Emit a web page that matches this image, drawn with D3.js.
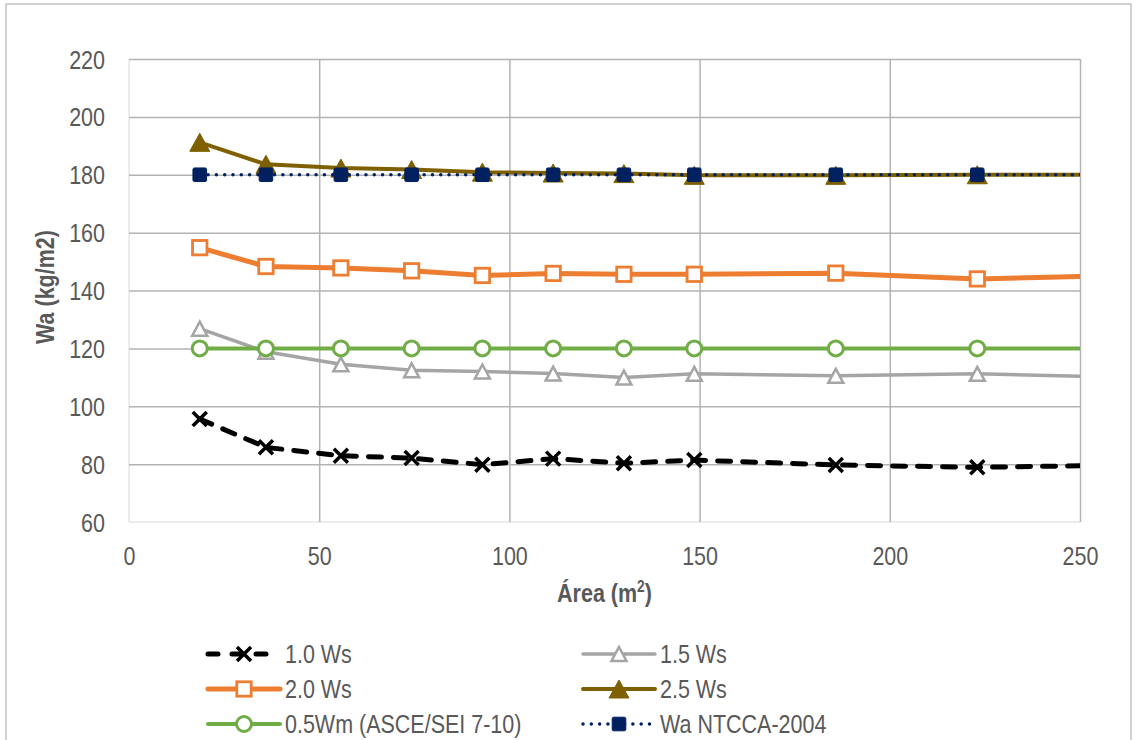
<!DOCTYPE html>
<html>
<head>
<meta charset="utf-8">
<script src="https://cdn.jsdelivr.net/npm/d3@7"></script>
<style>
html,body{margin:0;padding:0;background:#fff;}
svg{display:block;}
text{font-family:"Liberation Sans",Arial,sans-serif;fill:#595959;}
</style>
</head>
<body>
<svg id="chart" width="1138" height="740"></svg>
<script>
// ---- Data ----
const areas = [18.6, 36.0, 55.7, 74.3, 92.9, 111.5, 130.1, 148.6, 185.8, 223.0, 260.1];
const ws10  = [95.6, 85.8, 82.9, 82.1, 79.8, 81.9, 80.3, 81.4, 79.7, 78.9, 79.6];
const ws15  = [126.8, 118.8, 114.5, 112.4, 112.0, 111.3, 109.9, 111.2, 110.5, 111.2, 110.1];
const ws20  = [154.8, 148.3, 147.8, 146.8, 145.2, 145.9, 145.6, 145.6, 146.0, 144.0, 145.2];
const ws25  = [191.2, 183.6, 182.3, 181.8, 180.9, 180.6, 180.4, 179.8, 179.8, 180.0, 180.0];
const wm05  = [120, 120, 120, 120, 120, 120, 120, 120, 120, 120, 120];
const ntcca = [180, 180, 180, 180, 180, 180, 180, 180, 180, 180, 180];
const seriesNames = ["1.0 Ws", "1.5 Ws", "2.0 Ws", "2.5 Ws", "0.5Wm (ASCE/SEI 7-10)", "Wa NTCCA-2004"];
const xTicks = [0, 50, 100, 150, 200, 250];
const yTicks = [60, 80, 100, 120, 140, 160, 180, 200, 220];
const xTitle = "Área (m";
const xTitleSup = "2";
const yTitle = "Wa (kg/m2)";

// ---- Styles ----
const styles = [
  {color:"#000000", width:5, dash:"13 12", marker:"x"},
  {color:"#a5a5a5", width:3.5, dash:null, marker:"triOpen"},
  {color:"#ed7d31", width:5, dash:null, marker:"sqOpen"},
  {color:"#7f6000", width:4, dash:null, marker:"triFill"},
  {color:"#70ad47", width:4, dash:null, marker:"circOpen"},
  {color:"#002060", width:3.5, dash:"0.01 8.3", marker:"sqFill"}
];
const seriesVals = [ws10, ws15, ws20, ws25, wm05, ntcca];

const svg = d3.select("#chart");
const L = 129, R = 1080, T = 59, B = 522;
const SX = 0.86, FS = 25;

const x = d3.scaleLinear().domain([0, 250]).range([L, R]);
const y = d3.scaleLinear().domain([60, 220]).range([B, T]);

// outer frame
svg.append("rect").attr("x", 6).attr("y", 4).attr("width", 1125).attr("height", 760)
  .attr("fill", "#fff").attr("stroke", "#c4c4c4").attr("stroke-width", 1.5);

// plot area light borders (left & bottom)
svg.append("line").attr("x1", L).attr("x2", L).attr("y1", T).attr("y2", B)
  .attr("stroke", "#dadada").attr("stroke-width", 1);
svg.append("line").attr("x1", L).attr("x2", R).attr("y1", B).attr("y2", B)
  .attr("stroke", "#dadada").attr("stroke-width", 1);

// gridlines via axes
const gy = svg.append("g").attr("transform", `translate(${L},0)`)
  .call(d3.axisLeft(y).tickValues(yTicks.filter(v => v > 60)).tickSize(-(R - L)).tickFormat(""));
gy.select(".domain").remove();
gy.selectAll("line").attr("stroke", "#b3b3b3").attr("stroke-width", 1.5);

const gx = svg.append("g").attr("transform", `translate(0,${B})`)
  .call(d3.axisBottom(x).tickValues(xTicks.filter(v => v > 0)).tickSize(-(B - T)).tickFormat(""));
gx.select(".domain").remove();
gx.selectAll("line").attr("stroke", "#b3b3b3").attr("stroke-width", 1.5);

// tick labels via axes
const ly = svg.append("g").attr("transform", `translate(${L},0)`)
  .call(d3.axisLeft(y).tickValues(yTicks).tickSize(0).tickFormat(d3.format("d")));
ly.select(".domain").remove();
ly.selectAll("text").attr("x", 0).attr("dy", null)
  .attr("font-size", FS).attr("font-family", "Liberation Sans, Arial, sans-serif")
  .attr("fill", "#595959").attr("text-anchor", "end")
  .attr("transform", `translate(-24,9) scale(${SX},1)`);

const lx = svg.append("g").attr("transform", `translate(0,${B})`)
  .call(d3.axisBottom(x).tickValues(xTicks).tickSize(0).tickFormat(d3.format("d")));
lx.select(".domain").remove();
lx.selectAll("text").attr("y", 0).attr("dy", null)
  .attr("font-size", FS).attr("font-family", "Liberation Sans, Arial, sans-serif")
  .attr("fill", "#595959").attr("text-anchor", "middle")
  .attr("transform", `translate(0,43) scale(${SX},1)`);

// axis titles
const xt = svg.append("text").attr("text-anchor", "middle").attr("font-weight", "bold")
  .attr("font-size", FS).attr("transform", `translate(${(L + R) / 2},602) scale(${SX},1)`);
xt.append("tspan").text(xTitle);
xt.append("tspan").attr("font-size", 16).attr("dy", -10).text(xTitleSup);
xt.append("tspan").attr("dy", 10).text(")");

svg.append("text").attr("text-anchor", "middle").attr("font-weight", "bold")
  .attr("font-size", FS).attr("transform", `translate(54,287) rotate(-90) scale(${SX},1)`)
  .text(yTitle);

// clip
svg.append("clipPath").attr("id", "plotclip").append("rect")
  .attr("x", L).attr("y", T - 20).attr("width", R - L).attr("height", B - T + 40);

function drawMarker(g, type, cx, cy, color, s) {
  s = s || 1;
  if (type === "x") {
    const d = 7 * s;
    g.append("path").attr("d", `M${cx - d},${cy - d}L${cx + d},${cy + d}M${cx - d},${cy + d}L${cx + d},${cy - d}`)
      .attr("stroke", color).attr("stroke-width", 3.5).attr("fill", "none");
  } else if (type === "triOpen") {
    const w = 7.5 * s, h = 7 * s;
    g.append("path").attr("d", `M${cx},${cy - h}L${cx + w},${cy + h}L${cx - w},${cy + h}Z`)
      .attr("stroke", color).attr("stroke-width", 2.5).attr("fill", "#fff").attr("stroke-linejoin", "miter");
  } else if (type === "triFill") {
    const w = 10 * s, h = 9 * s;
    g.append("path").attr("d", `M${cx},${cy - h}L${cx + w},${cy + h}L${cx - w},${cy + h}Z`)
      .attr("stroke", color).attr("stroke-width", 1).attr("fill", color);
  } else if (type === "sqOpen") {
    const h = 7.2 * s;
    g.append("rect").attr("x", cx - h).attr("y", cy - h).attr("width", 2 * h).attr("height", 2 * h)
      .attr("stroke", color).attr("stroke-width", 2.8).attr("fill", "#fff");
  } else if (type === "sqFill") {
    const h = 6.8 * s;
    g.append("rect").attr("x", cx - h).attr("y", cy - h).attr("width", 2 * h).attr("height", 2 * h)
      .attr("rx", 1.5).attr("stroke", color).attr("stroke-width", 1).attr("fill", color);
  } else if (type === "circOpen") {
    g.append("circle").attr("cx", cx).attr("cy", cy).attr("r", 7.5 * s)
      .attr("stroke", color).attr("stroke-width", 3).attr("fill", "#fff");
  }
}

const lineGen = d3.line().x(d => x(d[0])).y(d => y(d[1]));
const plot = svg.append("g").attr("clip-path", "url(#plotclip)");

seriesVals.forEach((vals, i) => {
  const st = styles[i];
  const pts = areas.map((a, j) => [a, vals[j]]);
  const p = plot.append("path").datum(pts).attr("d", lineGen)
    .attr("fill", "none").attr("stroke", st.color).attr("stroke-width", st.width)
    .attr("stroke-linejoin", "round").attr("stroke-linecap", "round");
  if (st.dash) p.attr("stroke-dasharray", st.dash);
  const mg = plot.append("g");
  pts.filter(d => d[0] <= 250).forEach(d => drawMarker(mg, st.marker, x(d[0]), y(d[1]), st.color, 1));
});

// legend
const legCols = [208, 583];
const legRows = [654, 689, 724];
seriesNames.forEach((name, i) => {
  const st = styles[i];
  const col = i % 2, row = Math.floor(i / 2);
  const lx0 = legCols[col], ly0 = legRows[row];
  const g = svg.append("g");
  const ln = g.append("line").attr("x1", lx0).attr("x2", lx0 + 72).attr("y1", ly0).attr("y2", ly0)
    .attr("stroke", st.color).attr("stroke-width", st.width).attr("stroke-linecap", "round");
  if (st.dash) ln.attr("stroke-dasharray", i === 0 ? "10 14" : st.dash);
  drawMarker(g, st.marker, lx0 + 36, ly0, st.color, 1);
  g.append("text").attr("font-size", FS)
    .attr("transform", `translate(${lx0 + 77},${ly0 + 9}) scale(${SX},1)`).text(name);
});
</script>
</body>
</html>
